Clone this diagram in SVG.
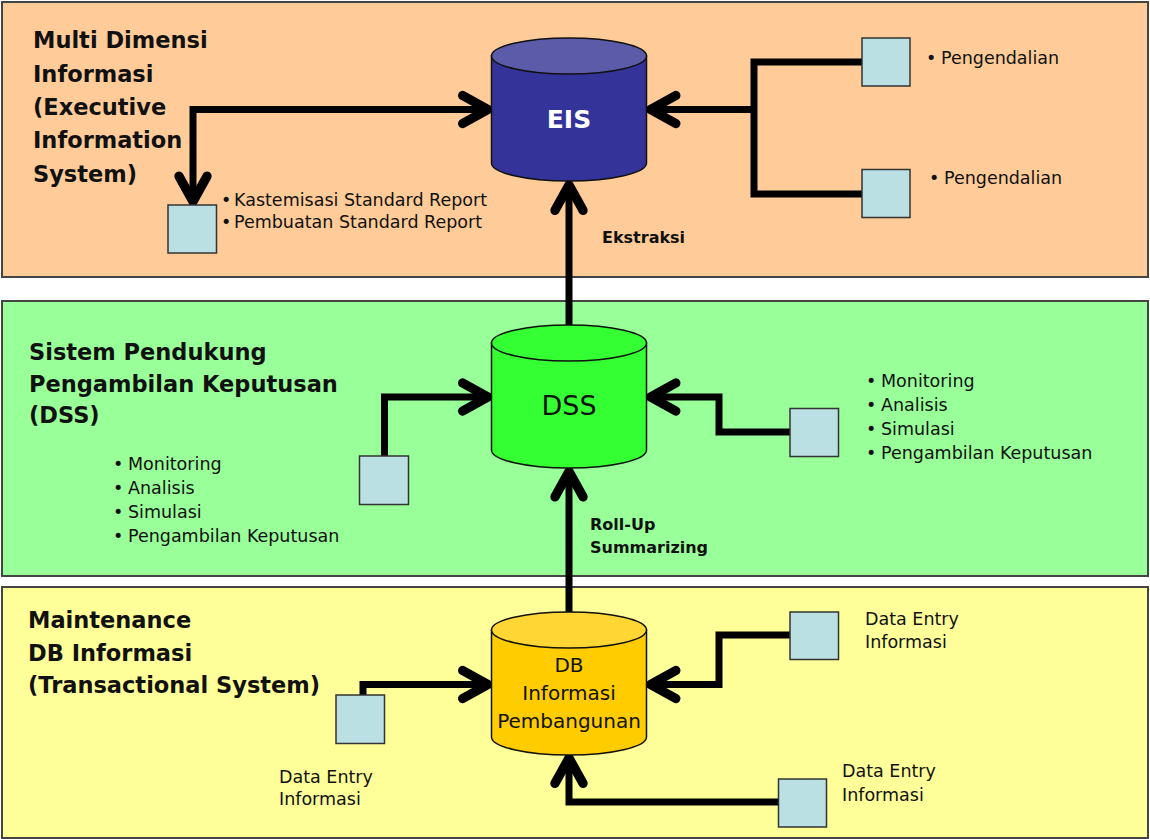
<svg xmlns="http://www.w3.org/2000/svg" width="1150" height="839" viewBox="0 0 1150 839">
<style>
.panel{stroke:#444;stroke-width:2}
.title{font-family:"DejaVu Sans",Verdana,sans-serif;font-weight:bold;font-size:22.5px;fill:#111}
.lbl{font-family:"DejaVu Sans",Verdana,sans-serif;font-size:17.5px;fill:#111}
.blbl{font-family:"DejaVu Sans",Verdana,sans-serif;font-weight:bold;font-size:16px;fill:#111}
.box{fill:#BBE0E3;stroke:#333;stroke-width:1.5}
.cyl{stroke:#111;stroke-width:1.5}
.conn{fill:none;stroke:#000;stroke-width:7;stroke-linejoin:miter}
</style>
<defs>
<marker id="arr" markerUnits="userSpaceOnUse" markerWidth="40" markerHeight="40" refX="0" refY="0" viewBox="-25 -15 30 30" orient="auto-start-reverse" overflow="visible">
<path d="M -19,-10.5 L 0,0 L -19,10.5" fill="none" stroke="#000" stroke-width="7" stroke-linecap="round" stroke-linejoin="round"/>
</marker>
</defs>
<g id="panels">
<rect id="panel-eis" class="panel" x="2" y="2" width="1146" height="275" fill="#FFCC99"/>
<rect id="panel-dss" class="panel" x="2" y="301" width="1146" height="275" fill="#99FF99"/>
<rect id="panel-tps" class="panel" x="2" y="587" width="1146" height="251" fill="#FFFF99"/>
</g>
<g id="titles">
<text class="title"><tspan x="33" y="48">Multi Dimensi</tspan><tspan x="33" y="82">Informasi</tspan><tspan x="33" y="115">(Executive</tspan><tspan x="33" y="148">Information</tspan><tspan x="33" y="182">System)</tspan></text>
<text class="title"><tspan x="29" y="360">Sistem Pendukung</tspan><tspan x="29" y="392">Pengambilan Keputusan</tspan><tspan x="29" y="423">(DSS)</tspan></text>
<text class="title"><tspan x="28" y="628">Maintenance</tspan><tspan x="28" y="661">DB Informasi</tspan><tspan x="28" y="693">(Transactional System)</tspan></text>
</g>
<g id="connectors">
<path class="conn" d="M 193,201.5 V 109.5 H 488" marker-start="url(#arr)" marker-end="url(#arr)"/>
<path class="conn" d="M 862,62 H 754 V 194 H 862"/>
<path class="conn" d="M 754,109.5 H 650.5" marker-end="url(#arr)"/>
<path class="conn" d="M 569,326 V 185" marker-end="url(#arr)"/>
<path class="conn" d="M 384.5,456 V 397 H 488" marker-end="url(#arr)"/>
<path class="conn" d="M 790,432 H 719 V 397 H 650.5" marker-end="url(#arr)"/>
<path class="conn" d="M 569,612 V 471.5" marker-end="url(#arr)"/>
<path class="conn" d="M 363,695 V 684.5 H 488" marker-end="url(#arr)"/>
<path class="conn" d="M 790,635 H 719 V 684.5 H 650.5" marker-end="url(#arr)"/>
<path class="conn" d="M 778,802 H 569 V 758" marker-end="url(#arr)"/>
</g>
<g id="eis">
<path class="cyl" d="M 491.5,56 V 163 A 77.5,18 0 0 0 646.5,163 V 56 Z" fill="#333399"/>
<ellipse class="cyl" cx="569" cy="56" rx="77.5" ry="18" fill="#5B5BAA"/>
<text x="569" y="128" text-anchor="middle" font-family="DejaVu Sans,Verdana,sans-serif" font-weight="bold" font-size="25" fill="#fff">EIS</text>
</g>
<g id="dss">
<path class="cyl" d="M 491.5,343 V 450 A 77.5,18 0 0 0 646.5,450 V 343 Z" fill="#33FF33"/>
<ellipse class="cyl" cx="569" cy="343" rx="77.5" ry="18" fill="#33FF33"/>
<text x="569" y="415" text-anchor="middle" font-family="DejaVu Sans,Verdana,sans-serif" font-size="27" fill="#111">DSS</text>
</g>
<g id="db">
<path class="cyl" d="M 491.5,630 V 737 A 77.5,18 0 0 0 646.5,737 V 630 Z" fill="#FFCC00"/>
<ellipse class="cyl" cx="569" cy="630" rx="77.5" ry="18" fill="#FFD633"/>
<text text-anchor="middle" font-family="DejaVu Sans,Verdana,sans-serif" font-size="20" fill="#111"><tspan x="569" y="672">DB</tspan><tspan x="569" y="700">Informasi</tspan><tspan x="569" y="728">Pembangunan</tspan></text>
</g>
<g id="box-report">
<rect class="box" x="168" y="205" width="48.5" height="48"/>
<text class="lbl" font-size="18"><tspan x="221" y="205.5">•</tspan><tspan x="234" y="205.5">Kastemisasi Standard Report</tspan><tspan x="221" y="228">•</tspan><tspan x="234" y="228">Pembuatan Standard Report</tspan></text>
</g>
<g id="box-ctrl1">
<rect class="box" x="862" y="38" width="48" height="48"/>
<text class="lbl"><tspan x="926" y="64">•</tspan><tspan x="941" y="64">Pengendalian</tspan></text>
</g>
<g id="box-ctrl2">
<rect class="box" x="862" y="169.5" width="48" height="48"/>
<text class="lbl"><tspan x="929" y="184">•</tspan><tspan x="944" y="184">Pengendalian</tspan></text>
</g>
<g id="label-ekstraksi">
<text class="blbl" x="602" y="243">Ekstraksi</text>
</g>
<g id="box-dss-left">
<rect class="box" x="359.5" y="456" width="49" height="48.5"/>
<text class="lbl"><tspan x="113" y="470">•</tspan><tspan x="128" y="470">Monitoring</tspan><tspan x="113" y="494">•</tspan><tspan x="128" y="494">Analisis</tspan><tspan x="113" y="518">•</tspan><tspan x="128" y="518">Simulasi</tspan><tspan x="113" y="542">•</tspan><tspan x="128" y="542">Pengambilan Keputusan</tspan></text>
</g>
<g id="box-dss-right">
<rect class="box" x="790" y="408.5" width="48.5" height="48"/>
<text class="lbl"><tspan x="866" y="387">•</tspan><tspan x="881" y="387">Monitoring</tspan><tspan x="866" y="411">•</tspan><tspan x="881" y="411">Analisis</tspan><tspan x="866" y="434.5">•</tspan><tspan x="881" y="434.5">Simulasi</tspan><tspan x="866" y="458.5">•</tspan><tspan x="881" y="458.5">Pengambilan Keputusan</tspan></text>
</g>
<g id="label-rollup">
<text class="blbl"><tspan x="590" y="530">Roll-Up</tspan><tspan x="590" y="553">Summarizing</tspan></text>
</g>
<g id="box-db-left">
<rect class="box" x="336" y="695" width="48.5" height="48.5"/>
<text class="lbl" font-size="17"><tspan x="279" y="783">Data Entry</tspan><tspan x="279" y="805">Informasi</tspan></text>
</g>
<g id="box-db-right">
<rect class="box" x="790" y="612" width="48.5" height="47.5"/>
<text class="lbl" font-size="17"><tspan x="865" y="625">Data Entry</tspan><tspan x="865" y="648">Informasi</tspan></text>
</g>
<g id="box-db-bottom">
<rect class="box" x="778.5" y="779" width="48" height="48"/>
<text class="lbl" font-size="17"><tspan x="842" y="777">Data Entry</tspan><tspan x="842" y="801">Informasi</tspan></text>
</g>
</svg>
